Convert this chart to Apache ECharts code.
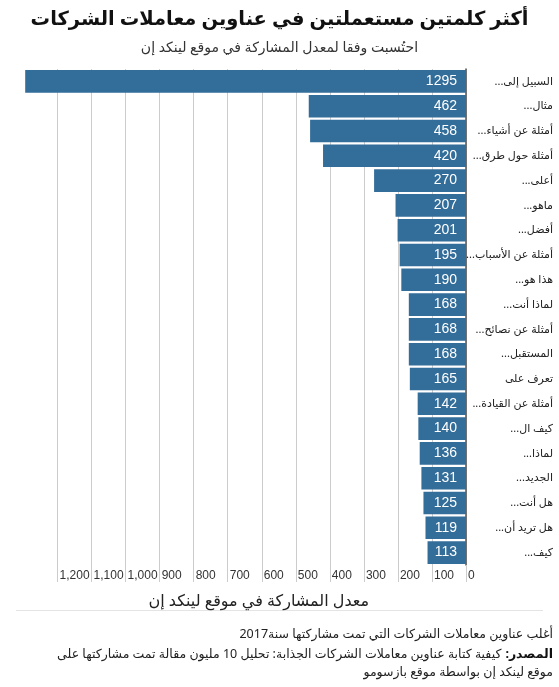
<!DOCTYPE html>
<html dir="rtl">
<head>
<meta charset="utf-8">
<script src="https://cdn.jsdelivr.net/npm/echarts@6/dist/echarts.min.js"></script>
<style>
html,body{margin:0;padding:0;background:#fff;}
#chart{width:559px;height:687px;}
</style>
</head>
<body>
<div id="chart"></div>
<script>
const categories = [
  'السبيل إلى...', 'مثال...', 'أمثلة عن أشياء...', 'أمثلة حول طرق...', 'أعلى...',
  'ماهو...', 'أفضل...', 'أمثلة عن الأسباب...', 'هذا هو...', 'لماذا أنت...',
  'أمثلة عن نصائح...', 'المستقبل...', 'تعرف على', 'أمثلة عن القيادة...', 'كيف ال...',
  'لماذا...', 'الجديد...', 'هل أنت...', 'هل تريد أن...', 'كيف...'
];
const engagement = [1295, 462, 458, 420, 270, 207, 201, 195, 190, 168, 168, 168, 165, 142, 140, 136, 131, 125, 119, 113];
const xTicks = { min: 0, max: 1300, interval: 100 };

const titleText = 'أكثر كلمتين مستعملتين في عناوين معاملات الشركات';
const subtitleText = 'احتُسبت وفقا لمعدل المشاركة في موقع لينكد إن';
const axisNameText = 'معدل المشاركة في موقع لينكد إن';
const noteText = 'أغلب عناوين معاملات الشركات التي تمت مشاركتها سنة2017';
const sourceLabel = 'المصدر:';
const sourceLine1 = 'كيفية كتابة عناوين معاملات الشركات الجذابة: تحليل 10 مليون مقالة تمت مشاركتها على';
const sourceLine2 = 'موقع لينكد إن بواسطة موقع بازسومو';

const arFont = "'Noto Sans', 'DejaVu Sans', sans-serif";
const numFont = "'Liberation Sans', Arial, sans-serif";

// text measurement helper (for fitting title and placing bold prefix)
const mctx = document.createElement('canvas').getContext('2d');
function textWidth(str, size, weight) {
  mctx.font = (weight || 'normal') + ' ' + size + 'px ' + arFont;
  return mctx.measureText(str).width;
}
const titleSize = Math.min(23, 23 * 498 / textWidth(titleText, 23, 'bold'));
const footSize = 12.5;
const boldW = textWidth(sourceLabel, footSize, 'bold');
const footRight = 6;

const chart = echarts.init(document.getElementById('chart'), null, {renderer: 'canvas'});
chart.setOption({
  animation: false,
  backgroundColor: '#fff',
  title: [
    { text: titleText, left: 'center', top: 20 - titleSize * 0.75,
      textStyle: { fontFamily: arFont, fontSize: titleSize, fontWeight: 'bold', color: '#111' } },
    { text: subtitleText, left: 'center', top: 36,
      textStyle: { fontFamily: arFont, fontSize: 14, fontWeight: 'normal', color: '#333' } },
    { text: noteText, right: footRight, top: 628, padding: 0,
      textStyle: { fontFamily: arFont, fontSize: footSize, fontWeight: 'normal', color: '#222' } },
    { text: sourceLabel, right: footRight, top: 648, padding: 0,
      textStyle: { fontFamily: arFont, fontSize: footSize, fontWeight: 'bold', color: '#111' } },
    { text: sourceLine1, right: footRight + boldW + 4, top: 648, padding: 0,
      textStyle: { fontFamily: arFont, fontSize: footSize, fontWeight: 'normal', color: '#222' } },
    { text: sourceLine2, right: footRight, top: 666, padding: 0,
      textStyle: { fontFamily: arFont, fontSize: footSize, fontWeight: 'normal', color: '#222' } }
  ],
  graphic: [
    { type: 'line', shape: { x1: 16, y1: 610.5, x2: 543, y2: 610.5 }, style: { stroke: '#e4e4e4', lineWidth: 1 }, silent: true }
  ],
  grid: { left: 23.5, right: 93, top: 69, bottom: 122, containLabel: false },
  xAxis: {
    type: 'value',
    inverse: true,
    min: xTicks.min, max: xTicks.max, interval: xTicks.interval,
    position: 'bottom',
    name: axisNameText,
    nameLocation: 'middle',
    nameGap: 28,
    nameTextStyle: { fontFamily: arFont, fontSize: 16, color: '#222', padding: [0, 0, 0, 28] },
    axisLine: { show: false },
    axisTick: { show: true, length: 17, lineStyle: { color: '#cccccc', width: 1 } },
    axisLabel: { show: true, showMaxLabel: false, margin: 5, align: 'left', padding: [0, 0, 0, 2],
      fontFamily: numFont, fontSize: 12, color: '#333' },
    splitLine: { show: true, showMaxLine: false, lineStyle: { color: '#cccccc', width: 1 } }
  },
  yAxis: {
    type: 'category',
    data: categories,
    inverse: true,
    position: 'right',
    axisLine: { show: true, lineStyle: { color: '#555', width: 1.5 } },
    axisTick: { show: false },
    axisLabel: { margin: 87, align: 'right', fontFamily: arFont, fontSize: 11, color: '#222' }
  },
  series: [{
    type: 'bar',
    data: engagement,
    barCategoryGap: '9%',
    itemStyle: { color: '#336d9a' },
    label: { show: true, position: 'insideRight', distance: 9, color: '#fff',
      fontFamily: numFont, fontSize: 14 }
  }]
});
</script>
</body>
</html>
